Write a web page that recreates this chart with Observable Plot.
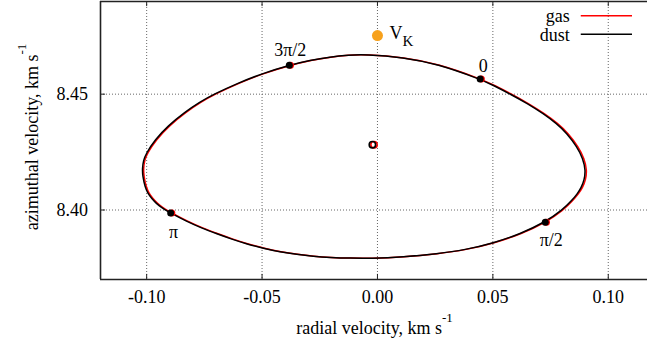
<!DOCTYPE html>
<html>
<head>
<meta charset="utf-8">
<script src="https://cdn.jsdelivr.net/npm/d3@7"></script>
<script src="https://cdn.jsdelivr.net/npm/@observablehq/plot@0.6"></script>
<style>
  html, body { margin: 0; padding: 0; background: white; }
  svg { display: block; }
</style>
</head>
<body>
<div id="chart"></div>
<script>
// ---- data ----
const xTicks = [-0.10, -0.05, 0.00, 0.05, 0.10];
const xTickLabels = ["-0.10", "-0.05", "0.00", "0.05", "0.10"];
const yTicks = [8.40, 8.45];
const yTickLabels = ["8.40", "8.45"];
const xDomain = [-0.12, 0.117];
const yDomain = [8.37, 8.49];

// dust hodograph (radial, azimuthal velocity, km/s)
const dustVr = [-0.0053, 0.0113, 0.0258, 0.0445, 0.0502, 0.0576, 0.0649, 0.0720, 0.0775, 0.0821, 0.0865, 0.0890, 0.0902, 0.0896, 0.0883, 0.0866, 0.0843, 0.0801, 0.0727, 0.0619, 0.0502, 0.0380, 0.0259, 0.0111, -0.0032, -0.0118, -0.0205, -0.0279, -0.0350, -0.0422, -0.0494, -0.0565, -0.0631, -0.0695, -0.0762, -0.0830, -0.0896, -0.0916, -0.0935, -0.0958, -0.0978, -0.0995, -0.1007, -0.1017, -0.1019, -0.1014, -0.1003, -0.0964, -0.0908, -0.0834, -0.0769, -0.0713, -0.0604, -0.0497, -0.0382, -0.0292, -0.0205, -0.0127];
const dustVphi = [8.4672, 8.4659, 8.4631, 8.4565, 8.4538, 8.4500, 8.4460, 8.4415, 8.4374, 8.4331, 8.4272, 8.4223, 8.4171, 8.4130, 8.4096, 8.4070, 8.4042, 8.4000, 8.3948, 8.3897, 8.3857, 8.3828, 8.3811, 8.3797, 8.3791, 8.3792, 8.3795, 8.3800, 8.3808, 8.3819, 8.3835, 8.3853, 8.3874, 8.3897, 8.3922, 8.3952, 8.3987, 8.3998, 8.4010, 8.4028, 8.4049, 8.4072, 8.4099, 8.4145, 8.4178, 8.4214, 8.4243, 8.4303, 8.4363, 8.4423, 8.4466, 8.4498, 8.4548, 8.4590, 8.4625, 8.4646, 8.4661, 8.4669];
// gas hodograph
const gasVr = [-0.0049, 0.0117, 0.0262, 0.0450, 0.0507, 0.0581, 0.0654, 0.0725, 0.0781, 0.0827, 0.0871, 0.0896, 0.0908, 0.0902, 0.0889, 0.0871, 0.0848, 0.0806, 0.0732, 0.0624, 0.0506, 0.0384, 0.0263, 0.0115, -0.0028, -0.0114, -0.0201, -0.0275, -0.0346, -0.0418, -0.0490, -0.0560, -0.0626, -0.0690, -0.0757, -0.0825, -0.0891, -0.0911, -0.0930, -0.0953, -0.0973, -0.0990, -0.1002, -0.1012, -0.1014, -0.1009, -0.0998, -0.0959, -0.0903, -0.0829, -0.0764, -0.0708, -0.0600, -0.0493, -0.0377, -0.0288, -0.0201, -0.0123];
const gasVphi = [8.4672, 8.4659, 8.4631, 8.4565, 8.4538, 8.4500, 8.4460, 8.4415, 8.4374, 8.4331, 8.4272, 8.4223, 8.4171, 8.4130, 8.4096, 8.4070, 8.4042, 8.4000, 8.3948, 8.3897, 8.3857, 8.3828, 8.3811, 8.3797, 8.3791, 8.3792, 8.3795, 8.3800, 8.3808, 8.3819, 8.3835, 8.3853, 8.3874, 8.3897, 8.3922, 8.3952, 8.3987, 8.3998, 8.4010, 8.4028, 8.4049, 8.4072, 8.4099, 8.4145, 8.4178, 8.4214, 8.4243, 8.4303, 8.4363, 8.4423, 8.4466, 8.4498, 8.4548, 8.4590, 8.4625, 8.4646, 8.4661, 8.4669];

// orbital phase markers
const phaseLabels = ["0", "π/2", "π", "3π/2"];
const dustPhaseVr = [0.0445, 0.0727, -0.0896, -0.0382];
const dustPhaseVphi = [8.4566, 8.3947, 8.3987, 8.4625];
const gasPhaseVr = [0.0450, 0.0732, -0.0891, -0.0377];
const gasPhaseVphi = [8.4566, 8.3947, 8.3987, 8.4625];

// mean (centre) velocities
const dustCentre = [-0.0022, 8.4282];
const gasCentre = [-0.0015, 8.4282];

// Keplerian velocity
const vK = [0.0, 8.4753];

const seriesNames = ["gas", "dust"];
const axisTitleX = "radial velocity, km s";
const axisTitleY = "azimuthal velocity, km s";
const unitExp = "-1";

// ---- build tables ----
const dust = dustVr.map((v, i) => ({vr: v, vphi: dustVphi[i]}));
const gas = gasVr.map((v, i) => ({vr: v, vphi: gasVphi[i]}));
const dustPh = dustPhaseVr.map((v, i) => ({vr: v, vphi: dustPhaseVphi[i], label: phaseLabels[i]}));
const gasPh = gasPhaseVr.map((v, i) => ({vr: v, vphi: gasPhaseVphi[i]}));

// ---- styles ----
const FONT = "'Liberation Serif', 'DejaVu Serif', serif";
const colors = {gas: "#ff0000", dust: "#000000"};
const labelDx = [3, 6, 3, 1];
const labelDy = [-13, 18, 19, -15];
const tickLenX = 0.0022, tickLenY = 0.0022;
const legendX1 = 0.0883, legendX2 = 0.1105, legendTextX = 0.0833;
const legendY = [8.4839, 8.4759];

const marks = [
  Plot.gridX(xTicks, {stroke: "#666", strokeOpacity: 1, strokeDasharray: "1,2", strokeWidth: 1}),
  Plot.gridY(yTicks, {stroke: "#666", strokeOpacity: 1, strokeDasharray: "1,2", strokeWidth: 1}),
  // inward ticks
  Plot.ruleX(xTicks, {y1: yDomain[0], y2: yDomain[0] + tickLenX, stroke: "#222"}),
  Plot.ruleX(xTicks, {y1: yDomain[1], y2: yDomain[1] - tickLenX, stroke: "#222"}),
  Plot.ruleY(yTicks, {x1: xDomain[0], x2: xDomain[0] + tickLenY, stroke: "#222"}),
  // frame (left, top, bottom)
  Plot.ruleX([xDomain[0]], {stroke: "#222", strokeWidth: 1.6}),
  Plot.ruleY(yDomain, {stroke: "#222", strokeWidth: 1.6}),
  Plot.axisX(xTicks, {anchor: "bottom", tickSize: 0, tickPadding: 11, tickFormat: d => xTickLabels[xTicks.indexOf(d)], label: null, fontSize: 18}),
  Plot.axisY(yTicks, {anchor: "left", tickSize: 0, tickPadding: 12.5, tickFormat: d => yTickLabels[yTicks.indexOf(d)], label: null, fontSize: 18}),
  // curves
  Plot.line(gas, {x: "vr", y: "vphi", curve: "basis-closed", stroke: colors.gas, strokeWidth: 1.5}),
  Plot.line(dust, {x: "vr", y: "vphi", curve: "basis-closed", stroke: colors.dust, strokeWidth: 1.5}),
  // phase markers
  Plot.dot(gasPh, {x: "vr", y: "vphi", r: 3.5, fill: colors.gas}),
  Plot.dot(dustPh, {x: "vr", y: "vphi", r: 3.5, fill: colors.dust}),
  ...phaseLabels.map((lab, i) => Plot.text([dustPh[i]], {x: "vr", y: "vphi", text: "label", dx: labelDx[i], dy: labelDy[i], fontSize: 18, textAnchor: "middle", lineAnchor: "middle", fill: "black"})),
  // centres
  Plot.dot([gasCentre], {x: d => d[0], y: d => d[1], r: 3.2, stroke: colors.gas, fill: "white", strokeWidth: 1.6}),
  Plot.dot([dustCentre], {x: d => d[0], y: d => d[1], r: 3.2, stroke: colors.dust, fill: "none", strokeWidth: 1.6}),
  // Keplerian velocity
  Plot.dot([vK], {x: d => d[0], y: d => d[1], r: 5.5, fill: "#f7a11c"}),
  Plot.text([vK], {x: d => d[0], y: d => d[1], text: () => "V", dx: 12, dy: -2.5, textAnchor: "start", lineAnchor: "middle", fontSize: 18, fill: "black"}),
  // legend
  Plot.ruleY(seriesNames, {y: (d, i) => legendY[i], x1: legendX1, x2: legendX2, stroke: d => colors[d], strokeWidth: 1.5}),
  Plot.text(seriesNames, {x: legendTextX, y: (d, i) => legendY[i], text: d => d, dy: 1, textAnchor: "end", lineAnchor: "middle", fontSize: 18, fill: "black"}),
  // axis titles
  Plot.text([axisTitleX], {frameAnchor: "bottom", text: d => d, dy: 48.5, dx: 0.5, textAnchor: "middle", lineAnchor: "middle", fontSize: 18, fill: "black"}),
  Plot.text([axisTitleY], {frameAnchor: "left", text: d => d, rotate: -90, dx: -68.5, dy: -3.5, textAnchor: "middle", lineAnchor: "middle", fontSize: 18, fill: "black"})
];

const chart = Plot.plot({
  width: 647,
  height: 345,
  marginLeft: 100,
  marginRight: 0,
  marginTop: 1,
  marginBottom: 66,
  x: {domain: xDomain},
  y: {domain: yDomain},
  style: {fontSize: "18px", background: "white", color: "black", overflow: "visible"},
  marks
});

// serif font everywhere
const s = d3.select(chart);
s.attr("font-family", FONT).style("font-family", FONT);
s.selectAll("g").attr("font-family", null);
s.selectAll("text").attr("font-family", FONT).style("font-family", FONT, "important");

// superscripts / subscripts as real text
const byText = t => s.selectAll("text").filter(function () { return this.textContent === t; });
byText(axisTitleX).append("tspan").attr("dy", -12).attr("font-size", 13).text(unitExp);
byText(axisTitleY).append("tspan").attr("dy", -12).attr("font-size", 13).text(unitExp);
byText("V").append("tspan").attr("dy", 7).attr("font-size", 15).text("K");

document.getElementById("chart").appendChild(chart);
</script>
</body>
</html>
